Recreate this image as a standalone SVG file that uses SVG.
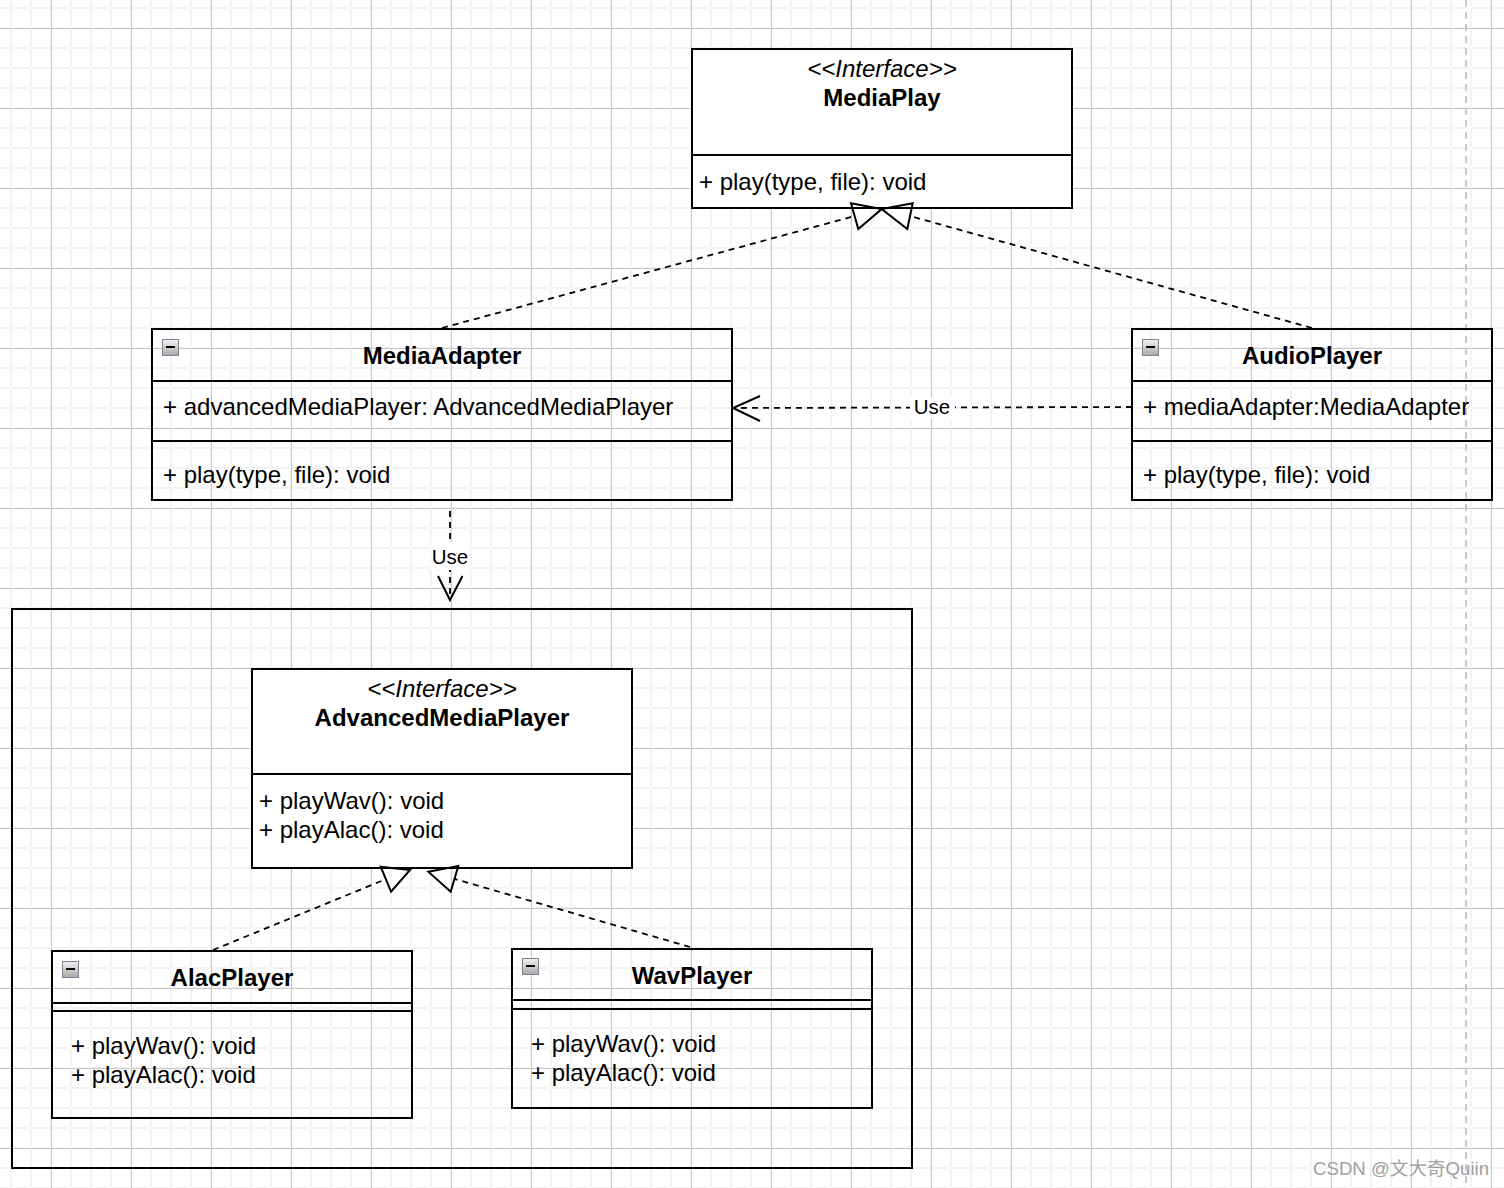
<svg xmlns="http://www.w3.org/2000/svg" width="1504" height="1188" viewBox="0 0 1504 1188">
<defs>
<style>
.box{fill:none;stroke:#000;stroke-width:2}
.wbox{fill:#fff;stroke:#000;stroke-width:2}
.sep{stroke:#000;stroke-width:2;fill:none}
text{font-family:"Liberation Sans",Arial,Helvetica,sans-serif;font-size:24px;fill:#000}
.t{font-weight:bold;text-anchor:middle}
.st{font-style:italic;text-anchor:middle}
.dash{fill:none;stroke:#000;stroke-width:1.8;stroke-dasharray:6 5}
.head{fill:none;stroke:#000;stroke-width:2;stroke-linejoin:miter}
.lbl{font-size:20.5px;text-anchor:middle}
.lblbg{fill:#fff}
.wm{font-size:18.6px;fill:#a0a0a0;text-anchor:end;font-family:"Liberation Sans","Noto Sans CJK SC",sans-serif}
</style>
<pattern id="grid" patternUnits="userSpaceOnUse" x="10" y="7" width="80" height="80">
<path d="M0 0H80V2H0Z M0 20H80V22H0Z M0 40H80V42H0Z M0 60H80V62H0Z M0 0V80H2V0Z M20 0V80H22V0Z M40 0V80H42V0Z M60 0V80H62V0Z" fill="#f3f3f3"/>
<rect x="41" y="0" width="1" height="80" fill="#c9c9c9"/>
<rect x="0" y="21" width="80" height="1" fill="#c9c9c9"/>
</pattern>
<linearGradient id="mg" x1="0" y1="0" x2="0" y2="1">
<stop offset="0" stop-color="#f2f2f2"/>
<stop offset="1" stop-color="#a9a9a9"/>
</linearGradient>
<g id="minus">
<rect x="0.5" y="0.5" width="16" height="16" fill="url(#mg)" stroke="#7d8494"/>
<rect x="4" y="7" width="9" height="2" fill="#000"/>
</g>
</defs>
<rect x="0" y="0" width="1504" height="1188" fill="#fff"/>
<rect x="0" y="0" width="1504" height="1188" fill="url(#grid)"/>
<line x1="1466" y1="0" x2="1466" y2="1188" stroke="#c8c8c8" stroke-width="2" stroke-dasharray="7 5"/>

<g id="MediaPlay">
<rect class="wbox" x="692" y="49" width="380" height="159"/>
<line class="sep" x1="692" y1="155" x2="1072" y2="155"/>
<text class="st" x="882" y="77">&lt;&lt;Interface&gt;&gt;</text>
<text class="t" x="882" y="106">MediaPlay</text>
<text x="699" y="190">+ play(type, file): void</text>
</g>

<g id="MediaAdapter">
<rect class="box" x="152" y="329" width="580" height="171"/>
<line class="sep" x1="152" y1="381" x2="732" y2="381"/>
<line class="sep" x1="152" y1="441" x2="732" y2="441"/>
<use href="#minus" x="162" y="339"/>
<text class="t" x="442" y="364">MediaAdapter</text>
<text x="163" y="415">+ advancedMediaPlayer: AdvancedMediaPlayer</text>
<text x="163" y="483">+ play(type, file): void</text>
</g>

<g id="AudioPlayer">
<rect class="box" x="1132" y="329" width="360" height="171"/>
<line class="sep" x1="1132" y1="381" x2="1492" y2="381"/>
<line class="sep" x1="1132" y1="441" x2="1492" y2="441"/>
<use href="#minus" x="1142" y="339"/>
<text class="t" x="1312" y="364">AudioPlayer</text>
<text x="1143" y="415">+ mediaAdapter:MediaAdapter</text>
<text x="1143" y="483">+ play(type, file): void</text>
</g>

<g id="Container">
<rect class="box" x="12" y="609" width="900" height="559"/>
</g>

<g id="AdvancedMediaPlayer">
<rect class="wbox" x="252" y="669" width="380" height="199"/>
<line class="sep" x1="252" y1="774" x2="632" y2="774"/>
<text class="st" x="442" y="697">&lt;&lt;Interface&gt;&gt;</text>
<text class="t" x="442" y="726">AdvancedMediaPlayer</text>
<text x="259" y="809">+ playWav(): void</text>
<text x="259" y="838">+ playAlac(): void</text>
</g>

<g id="AlacPlayer">
<rect class="box" x="52" y="951" width="360" height="167"/>
<line class="sep" x1="52" y1="1003" x2="412" y2="1003"/>
<line class="sep" x1="52" y1="1011" x2="412" y2="1011"/>
<use href="#minus" x="62" y="961"/>
<text class="t" x="232" y="986">AlacPlayer</text>
<text x="71" y="1054">+ playWav(): void</text>
<text x="71" y="1083">+ playAlac(): void</text>
</g>

<g id="WavPlayer">
<rect class="box" x="512" y="949" width="360" height="159"/>
<line class="sep" x1="512" y1="1000" x2="872" y2="1000"/>
<line class="sep" x1="512" y1="1009" x2="872" y2="1009"/>
<use href="#minus" x="522" y="958"/>
<text class="t" x="692" y="984">WavPlayer</text>
<text x="531" y="1052">+ playWav(): void</text>
<text x="531" y="1081">+ playAlac(): void</text>
</g>

<g id="connectors">
<path class="dash" d="M442 328 L854.7 216"/>
<path class="head" d="M851 203.3 L881.7 209 L858.3 229 Z"/>
<path class="dash" d="M1312 328 L910 216"/>
<path class="head" d="M881.7 209 L912.7 203.3 L907.3 229 Z"/>
<path class="dash" d="M1132 407 L734 408"/>
<path class="head" d="M760 396 L733 408 L760 421"/>
<rect class="lblbg" x="910" y="397" width="45" height="22"/>
<text class="lbl" x="932" y="414">Use</text>
<path class="dash" d="M450 511 V599"/>
<path class="head" d="M438 576 L450 600 L462.5 576"/>
<rect class="lblbg" x="431" y="542" width="38" height="28"/>
<text class="lbl" x="450" y="564">Use</text>
<path class="dash" d="M213 950 L385.8 879.2"/>
<path class="head" d="M380.7 866.7 L410 870 L391 891.7 Z"/>
<path class="dash" d="M690 947 L454.5 878.9"/>
<path class="head" d="M428.3 871.7 L458.3 866 L450.7 891.7 Z"/>
</g>

<text class="wm" x="1489" y="1175">CSDN @文大奇Quiin</text>
</svg>
